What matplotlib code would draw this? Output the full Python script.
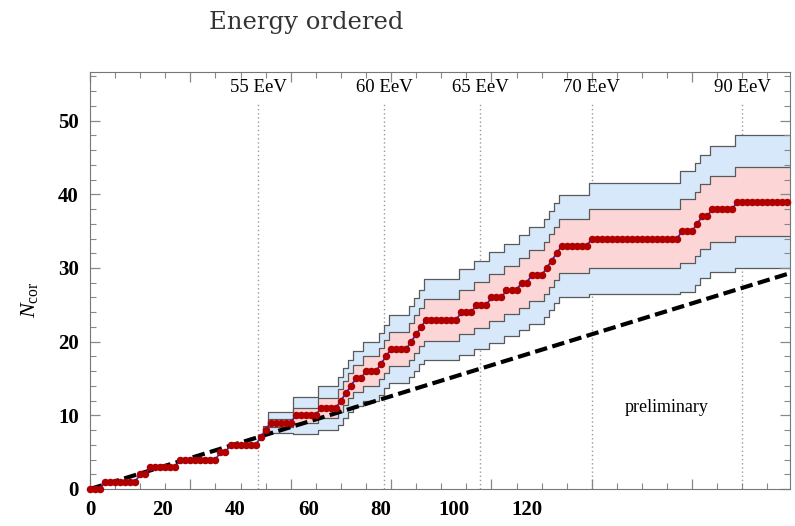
import numpy as np
import matplotlib
matplotlib.use("Agg")
import matplotlib.pyplot as plt
from matplotlib.ticker import MultipleLocator

plt.rcParams["font.family"] = ["Liberation Serif", "DejaVu Serif"]
plt.rcParams["mathtext.fontset"] = "custom"
plt.rcParams["mathtext.rm"] = "Liberation Serif"
plt.rcParams["mathtext.it"] = "Liberation Serif:italic"

# cumulative number of correlating events, as plateaus (first event index, N_cor)
seg_start = [0, 3, 10, 12, 18, 26, 28, 34, 35, 36, 41, 46, 50, 51, 52, 53, 55, 58, 59, 60,
             64, 65, 66, 67, 74, 77, 80, 83, 86, 88, 91, 92, 93, 94, 100, 118, 121, 122, 124, 129]
seg_ncor = [0, 1, 2, 3, 4, 5, 6, 7, 8, 9, 10, 11, 12, 13, 14, 15, 16, 17, 18, 19,
            20, 21, 22, 23, 24, 25, 26, 27, 28, 29, 30, 31, 32, 33, 34, 35, 36, 37, 38, 39]
last_event = 139

# band half-widths per plateau, from the 55 EeV threshold onwards
band_from = 7
w68 = [0.15, 0.25, 0.55, 1.05, 1.4, 1.55, 1.6, 1.7, 1.8, 2.0, 2.1, 2.2, 2.35, 2.5, 2.55, 2.6,
       2.85, 3.0, 3.1, 3.2, 3.3, 3.4, 3.45, 3.5, 3.55, 3.6, 3.7, 4.05, 4.3, 4.35, 4.4, 4.5, 4.7]
w95 = [0.35, 0.6, 1.4, 2.5, 2.95, 3.25, 3.4, 3.5, 3.7, 4.0, 4.2, 4.3, 4.6, 4.85, 4.95, 5.05,
       5.5, 5.8, 6.0, 6.15, 6.3, 6.45, 6.6, 6.7, 6.75, 6.8, 6.95, 7.6, 8.2, 8.3, 8.4, 8.6, 9.0]

# isotropic expectation
iso_x = [0, 140]
iso_y = [0, 29.4]

# energy thresholds (event index)
e_pos = [33.5, 58.6, 77.7, 100.0, 130.0]
e_lab = ["55 EeV", "60 EeV", "65 EeV", "70 EeV", "90 EeV"]

xticks_lab = [0, 20, 40, 60, 80, 100, 120]
lab_scale = 0.725

events = np.arange(0, last_event + 1)
ncor = np.repeat(seg_ncor, np.diff(seg_start + [last_event + 1]))

fig = plt.figure(figsize=(7.95, 5.26), dpi=100)
ax = fig.add_axes([90 / 795, 37 / 526, 700 / 795, 417 / 526])

bx = np.array(seg_start[band_from:] + [last_event + 1]) - 0.5
bc = np.array(seg_ncor[band_from:] + [seg_ncor[-1]], dtype=float)
b1 = np.array(w68 + [w68[-1]])
b2 = np.array(w95 + [w95[-1]])

ax.fill_between(bx, bc - b2, bc + b2, step="post", color="#d6e8fa", lw=0, zorder=1)
ax.fill_between(bx, bc - b1, bc + b1, step="post", color="#fcd6d6", lw=0, zorder=1.1)
for edge in (bc - b2, bc + b2, bc - b1, bc + b1):
    ax.step(bx, edge, where="post", color="#5a5a5a", lw=0.9, zorder=1.2)

ax.vlines(e_pos, 0, 52.5, colors="#9a9a9a", linestyles=(0, (1, 2)), lw=1, zorder=0.5)
for xp, t in zip(e_pos, e_lab):
    ax.text(xp, 54.5, t, ha="center", va="center", fontsize=13.5)

ax.plot(iso_x, iso_y, color="black", lw=3, linestyle=(0, (3, 1.3)), zorder=2)
ax.plot(events, ncor, color="#2a2ad0", lw=1.3, marker="o", ms=4.4,
        mfc="#b00000", mec="#b00000", zorder=3, clip_on=False)

ax.text(115, 11.1, "preliminary", ha="center", va="center", fontsize=13)

ax.set_xlim(0, 139.5)
ax.set_ylim(0, 56.6)
ax.xaxis.set_major_locator(MultipleLocator(20))
ax.xaxis.set_minor_locator(MultipleLocator(5))
ax.yaxis.set_major_locator(MultipleLocator(10))
ax.yaxis.set_minor_locator(MultipleLocator(2))
ax.tick_params(which="both", direction="in", top=True, right=True, color="#888888",
               labelbottom=False, labelsize=15)
ax.tick_params(axis="y", pad=8)
ax.tick_params(which="major", length=7, width=0.9)
ax.tick_params(which="minor", length=4, width=0.8)
for lab in ax.get_yticklabels():
    lab.set_fontweight("bold")
for sp in ax.spines.values():
    sp.set_color("#777777")

sec = ax.secondary_xaxis("bottom", functions=(lambda x: x / lab_scale, lambda x: x * lab_scale))
sec.set_xticks(xticks_lab)
sec.tick_params(length=0, labelsize=15, pad=8)
sec.spines["bottom"].set_visible(False)
for lab in sec.get_xticklabels():
    lab.set_fontweight("bold")

ax.set_ylabel(r"$N_{\rm cor}$", fontsize=16)
ax.yaxis.set_label_coords(-50 / 700, 0.453)

fig.text(306 / 795, 1 - 22 / 526, "Energy ordered", ha="center", va="center",
         fontsize=17.5, color="#333333", family=["DejaVu Serif"])

fig.savefig("out.png", dpi=100)
